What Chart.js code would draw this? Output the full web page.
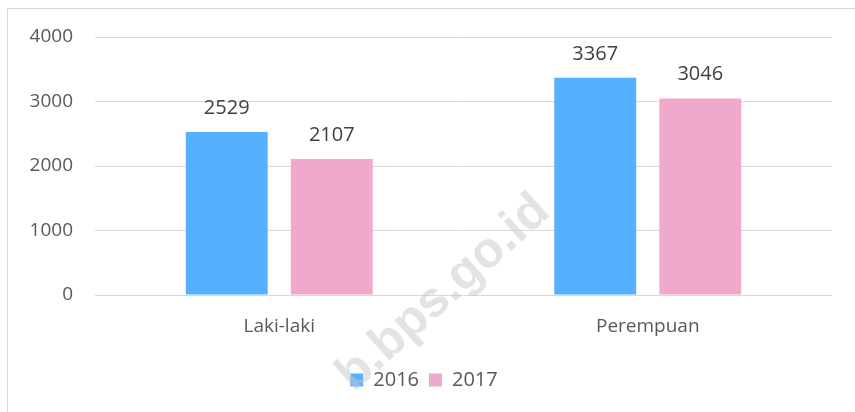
<!DOCTYPE html>
<html>
<head>
<meta charset="utf-8">
<script src="https://cdn.jsdelivr.net/npm/chart.js@4.4.1/dist/chart.umd.min.js"></script>
<style>
  html, body { margin: 0; padding: 0; background: #fff; }
  #wrap { position: absolute; left: 0; top: 0; width: 855px; height: 412px; }
  #frame { position: absolute; left: 7px; top: 8px; width: 860px; height: 420px; border: 1px solid #d9d9d9; box-sizing: border-box; }
</style>
</head>
<body>
<div id="wrap">
  <div id="frame"></div>
  <canvas id="c" width="855" height="412"></canvas>
</div>
<script>
const categories = ["Laki-laki", "Perempuan"];
const seriesNames = ["2016", "2017"];
const values2016 = [2529, 3367];
const values2017 = [2107, 3046];
const yTicks = [0, 1000, 2000, 3000, 4000];
const watermarkText = "b.bps.go.id";

const FONT = "'Open Sans', 'Noto Sans', sans-serif";

const valueLabels = {
  id: 'valueLabels',
  afterDatasetsDraw(chart) {
    const ctx = chart.ctx;
    ctx.save();
    ctx.font = "20px " + FONT;
    ctx.fillStyle = "#404040";
    ctx.textAlign = "center";
    ctx.textBaseline = "middle";
    chart.data.datasets.forEach((ds, i) => {
      chart.getDatasetMeta(i).data.forEach((bar, j) => {
        ctx.fillText(String(ds.data[j]), bar.x, bar.y - 24);
      });
    });
    ctx.restore();
  }
};

const watermark = {
  id: 'watermark',
  afterDraw(chart) {
    const ctx = chart.ctx;
    ctx.save();
    ctx.translate(552, 214);
    ctx.rotate(-42 * Math.PI / 180);
    ctx.font = "bold 50px 'Liberation Sans', Arial, sans-serif";
    ctx.fillStyle = "rgba(200,200,200,0.5)";
    ctx.textAlign = "right";
    ctx.textBaseline = "alphabetic";
    ctx.fillText(watermarkText, 0, 0);
    ctx.restore();
  }
};

new Chart(document.getElementById('c'), {
  type: 'bar',
  data: {
    labels: categories,
    datasets: [
      { label: seriesNames[0], data: values2016, backgroundColor: '#55B0FF', categoryPercentage: 0.57, barPercentage: 0.78 },
      { label: seriesNames[1], data: values2017, backgroundColor: '#F1A9CB', categoryPercentage: 0.57, barPercentage: 0.78 }
    ]
  },
  options: {
    responsive: false,
    animation: false,
    layout: { padding: { left: 16, right: 23, top: 37, bottom: 12 } },
    plugins: {
      legend: {
        position: 'bottom',
        labels: {
          boxWidth: 13, boxHeight: 13, padding: 10,
          color: '#595959',
          font: { family: FONT, size: 20 }
        }
      },
      tooltip: { enabled: false }
    },
    scales: {
      x: {
        grid: { display: false, drawTicks: false },
        border: { display: false },
        ticks: { color: '#595959', padding: 20, font: { family: FONT, size: 19 } },
        afterFit(s) { s.height = 65; }
      },
      y: {
        min: 0, max: 4000,
        afterBuildTicks(s) { s.ticks = yTicks.map(v => ({ value: v })); },
        grid: { color: '#d9d9d9', lineWidth: 1, drawTicks: false },
        border: { display: false },
        ticks: { color: '#595959', padding: 22, font: { family: FONT, size: 19 }, callback: v => String(v) },
        afterFit(s) { s.width = 79; }
      }
    }
  },
  plugins: [valueLabels, watermark]
});
</script>
</body>
</html>
